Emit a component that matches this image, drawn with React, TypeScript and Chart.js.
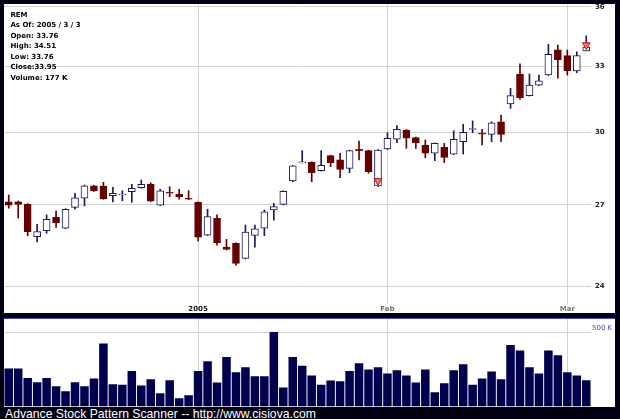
import React, { useEffect, useRef } from 'react';
import { Chart, registerables } from 'chart.js';

Chart.register(...registerables);

// ---- data ----
const dates = [
  '12/03', '12/06', '12/07', '12/08', '12/09', '12/10', '12/13', '12/14', '12/15', '12/16',
  '12/17', '12/20', '12/21', '12/22', '12/23', '12/27', '12/28', '12/29', '12/30', '12/31',
  '01/03', '01/04', '01/05', '01/06', '01/07', '01/10', '01/11', '01/12', '01/13', '01/14',
  '01/18', '01/19', '01/20', '01/21', '01/24', '01/25', '01/26', '01/27', '01/28', '01/31',
  '02/01', '02/02', '02/03', '02/04', '02/07', '02/08', '02/09', '02/10', '02/11', '02/14',
  '02/15', '02/16', '02/17', '02/18', '02/22', '02/23', '02/24', '02/25', '02/28', '03/01',
  '03/02', '03/03',
];

const tickLabels: Record<string, string> = { '01/03': '2005', '02/01': 'Feb', '03/01': 'Mar' };

const opens = [
  27.12, 27.12, 27.02, 25.78, 26.01, 26.52, 26.10, 26.90, 27.26, 27.76,
  27.75, 27.36, 27.39, 27.52, 27.68, 27.82, 26.99, 27.50, 27.42, 27.26,
  27.10, 25.84, 26.48, 25.39, 25.53, 24.98, 25.83, 26.10, 26.80, 27.02,
  27.96, 28.70, 28.72, 28.37, 29.00, 28.82, 28.47, 29.27, 29.21, 27.75,
  29.28, 29.70, 30.10, 29.77, 29.45, 29.10, 29.35, 29.06, 29.59, 30.12,
  29.94, 29.91, 30.46, 31.26, 32.65, 31.64, 32.12, 32.60, 33.81, 33.53,
  32.79, 33.76,
];
const highs = [
  27.39, 27.15, 27.05, 26.25, 26.61, 26.77, 26.85, 27.46, 27.79, 27.78,
  27.90, 27.70, 27.56, 27.82, 27.99, 27.88, 27.62, 27.72, 27.62, 27.56,
  27.12, 26.83, 26.61, 25.68, 25.55, 26.22, 26.22, 26.80, 27.06, 27.56,
  28.59, 29.21, 28.74, 29.21, 29.02, 29.10, 29.23, 29.62, 29.23, 29.26,
  29.98, 30.29, 30.12, 29.79, 29.67, 29.54, 29.52, 30.07, 30.35, 30.50,
  30.13, 30.46, 30.76, 31.98, 33.13, 32.65, 32.60, 34.09, 34.05, 33.81,
  33.72, 34.51,
];
const lows = [
  26.87, 26.49, 25.82, 25.59, 25.91, 26.13, 26.08, 26.83, 26.96, 27.53,
  27.22, 27.12, 27.16, 27.10, 27.66, 27.13, 26.97, 27.32, 27.22, 27.20,
  25.62, 25.82, 25.47, 25.29, 24.74, 24.96, 25.39, 25.82, 26.41, 27.00,
  27.92, 28.69, 27.92, 28.35, 28.54, 28.09, 28.29, 28.82, 28.27, 27.73,
  29.26, 29.55, 29.31, 29.31, 28.91, 28.79, 28.71, 29.04, 29.07, 29.98,
  29.45, 29.59, 29.59, 31.06, 31.47, 31.62, 32.10, 32.58, 32.45, 32.60,
  32.71, 33.76,
];
const closes = [
  26.99, 27.02, 25.97, 25.97, 26.44, 26.31, 26.83, 27.28, 27.76, 27.55,
  27.23, 27.46, 27.43, 27.66, 27.82, 27.15, 27.56, 27.46, 27.32, 27.22,
  25.76, 26.54, 25.56, 25.31, 24.80, 25.95, 26.08, 26.73, 26.93, 27.54,
  28.57, 28.72, 28.29, 28.60, 28.71, 28.43, 29.21, 29.20, 28.33, 29.24,
  29.74, 30.13, 29.74, 29.55, 29.10, 29.52, 28.93, 29.70, 30.00, 30.14,
  29.92, 30.42, 29.91, 31.64, 31.54, 32.13, 32.33, 33.60, 33.32, 32.81,
  33.53, 33.95,
];
const volumesK = [
  256, 256, 193, 164, 193, 137, 103, 164, 137, 189,
  424, 150, 146, 240, 141, 184, 90, 177, 56, 76,
  240, 305, 162, 334, 231, 265, 204, 204, 502, 128,
  334, 274, 209, 146, 175, 170, 240, 292, 249, 265,
  222, 245, 209, 162, 249, 96, 157, 245, 285, 146,
  189, 236, 184, 415, 377, 265, 222, 377, 346, 231,
  209, 177,
];
// pattern markers (down triangles), null = none
const markers: (number | null)[] = [
  null, null, null, null, null, null, null, null, null, null,
  null, null, null, null, null, null, null, null, null, null,
  null, null, null, null, null, null, null, null, null, null,
  null, null, null, null, null, null, null, null, null, 27.96,
  null, null, null, null, null, null, null, null, null, null,
  null, null, null, null, null, null, null, null, null, null,
  null, 34.05,
];

const priceTicks = [24, 27, 30, 33, 36];
const volumeTicksK = [500];

const infoLines = [
  'REM',
  'As Of: 2005 / 3 / 3',
  'Open: 33.76',
  'High: 34.51',
  'Low: 33.76',
  'Close:33.95',
  'Volume: 177 K',
];
const footerText = 'Advance Stock Pattern Scanner -- http://www.cisiova.com';

// ---- styles ----
const UP = '#1a1a5c';
const DOWN = '#660000';
const GRID = '#d2d2d2';
const FONT = 'DejaVu Sans';

const tickIdx = dates.map((d, i) => (tickLabels[d] ? i : -1)).filter((i) => i >= 0);

export default function App() {
  const priceRef = useRef<HTMLCanvasElement>(null);
  const volRef = useRef<HTMLCanvasElement>(null);

  useEffect(() => {
    const zeroPad = (s: any) => {
      s.paddingTop = 0;
      s.paddingBottom = 0;
      s.paddingLeft = 0;
      s.paddingRight = 0;
    };
    const setXTicks = (s: any) => {
      s.ticks = tickIdx.map((v) => ({ value: v }));
    };
    const up = dates.map((_, i) => closes[i] >= opens[i]);

    const price = new Chart(priceRef.current!, {
      type: 'bar',
      data: {
        labels: dates,
        datasets: [
          {
            type: 'line',
            data: markers,
            showLine: false,
            pointStyle: 'triangle',
            pointRotation: 180,
            pointRadius: 4.5,
            pointBackgroundColor: '#ff6b6b',
            pointBorderColor: '#b42020',
            pointBorderWidth: 1,
            order: 0,
          } as any,
          {
            data: dates.map((_, i) => [opens[i], closes[i]]),
            backgroundColor: up.map((u) => (u ? '#ffffff' : DOWN)),
            borderColor: up.map((u) => (u ? UP : DOWN)),
            borderWidth: 1,
            borderSkipped: false,
            barThickness: 7,
            grouped: false,
            minBarLength: 1,
            order: 1,
          } as any,
          {
            data: dates.map((_, i) => [lows[i], highs[i]]),
            backgroundColor: up.map((u) => (u ? UP : DOWN)),
            borderWidth: 0,
            barThickness: 1,
            grouped: false,
            order: 2,
          } as any,
        ],
      },
      options: {
        responsive: false,
        maintainAspectRatio: false,
        animation: false,
        events: [],
        layout: { padding: 0, autoPadding: false },
        plugins: { legend: { display: false }, tooltip: { enabled: false } },
        scales: {
          x: {
            type: 'category',
            offset: true,
            grid: { offset: false, color: GRID, drawTicks: false },
            border: { display: false },
            afterBuildTicks: setXTicks,
            afterFit: (s: any) => {
              s.height = 9;
              zeroPad(s);
            },
            ticks: {
              autoSkip: false,
              maxRotation: 0,
              padding: 1,
              callback: (v: any) => tickLabels[dates[v as number]] ?? '',
              font: { family: FONT, size: 7, weight: 'bold' },
              color: (ctx: any) => {
                const l = tickLabels[dates[ctx.tick.value]];
                return l === '2005' ? '#111111' : l === 'Feb' ? '#6a6a6a' : '#7a7a7a';
              },
            },
          } as any,
          y: {
            type: 'logarithmic',
            position: 'right',
            min: 23.381,
            max: 36.141,
            bounds: 'data',
            grid: { color: GRID, drawTicks: false },
            border: { display: false },
            afterBuildTicks: (s: any) => {
              s.ticks = priceTicks.map((v) => ({ value: v }));
            },
            afterFit: (s: any) => {
              s.width = 24;
              zeroPad(s);
            },
            ticks: {
              padding: 4,
              callback: (v: any) => String(v),
              font: { family: FONT, size: 7, weight: 'bold' },
              color: '#222222',
            },
          } as any,
        },
      },
    });

    const vol = new Chart(volRef.current!, {
      type: 'bar',
      data: {
        labels: dates,
        datasets: [
          {
            data: volumesK,
            backgroundColor: '#00004e',
            borderWidth: 0,
            barPercentage: 0.9,
            categoryPercentage: 1,
          },
        ],
      },
      options: {
        responsive: false,
        maintainAspectRatio: false,
        animation: false,
        events: [],
        layout: { padding: { bottom: 0.5 }, autoPadding: false },
        plugins: { legend: { display: false }, tooltip: { enabled: false } },
        scales: {
          x: {
            type: 'category',
            offset: true,
            grid: { offset: false, color: GRID, drawTicks: false },
            border: { display: false },
            afterBuildTicks: setXTicks,
            afterFit: (s: any) => {
              s.height = 0;
              zeroPad(s);
            },
            ticks: { display: false, autoSkip: false },
          } as any,
          y: {
            type: 'linear',
            position: 'right',
            min: 0,
            max: 590,
            bounds: 'data',
            grid: { color: GRID, drawTicks: false },
            border: { display: false },
            afterBuildTicks: (s: any) => {
              s.ticks = volumeTicksK.map((v) => ({ value: v }));
            },
            afterFit: (s: any) => {
              s.width = 24;
              zeroPad(s);
            },
            ticks: {
              padding: 1,
              labelOffset: -4,
              callback: (v: any) => `${v} K`,
              font: { family: FONT, size: 7 },
              color: '#4848b0',
            },
          } as any,
        },
      },
    });

    return () => {
      price.destroy();
      vol.destroy();
    };
  }, []);

  return (
    <div
      style={{
        position: 'absolute',
        left: 0,
        top: 0,
        width: 620,
        height: 419,
        background: '#000012',
        overflow: 'hidden',
      }}
    >
      <div style={{ position: 'absolute', left: 4, top: 4, width: 611, height: 309, background: '#ffffff' }}>
        <canvas ref={priceRef} width={611} height={309} style={{ display: 'block' }} />
      </div>
      <div
        style={{
          position: 'absolute',
          left: 10.4,
          top: 9.8,
          fontFamily: FONT,
          fontWeight: 'bold',
          fontSize: 7,
          lineHeight: '10.45px',
          color: '#000000',
          whiteSpace: 'nowrap',
        }}
      >
        {infoLines.map((t) => (
          <div key={t}>{t}</div>
        ))}
      </div>
      <div style={{ position: 'absolute', left: 4, top: 318, width: 611, height: 1, background: '#4b4bb8' }} />
      <div style={{ position: 'absolute', left: 4, top: 319, width: 611, height: 88, background: '#ffffff' }}>
        <canvas ref={volRef} width={611} height={88} style={{ display: 'block' }} />
      </div>
      <div
        style={{
          position: 'absolute',
          left: 5,
          top: 407.6,
          fontFamily: 'Liberation Sans',
          fontSize: 12.2,
          lineHeight: '12px',
          color: '#ffffff',
          whiteSpace: 'nowrap',
        }}
      >
        {footerText}
      </div>
    </div>
  );
}
